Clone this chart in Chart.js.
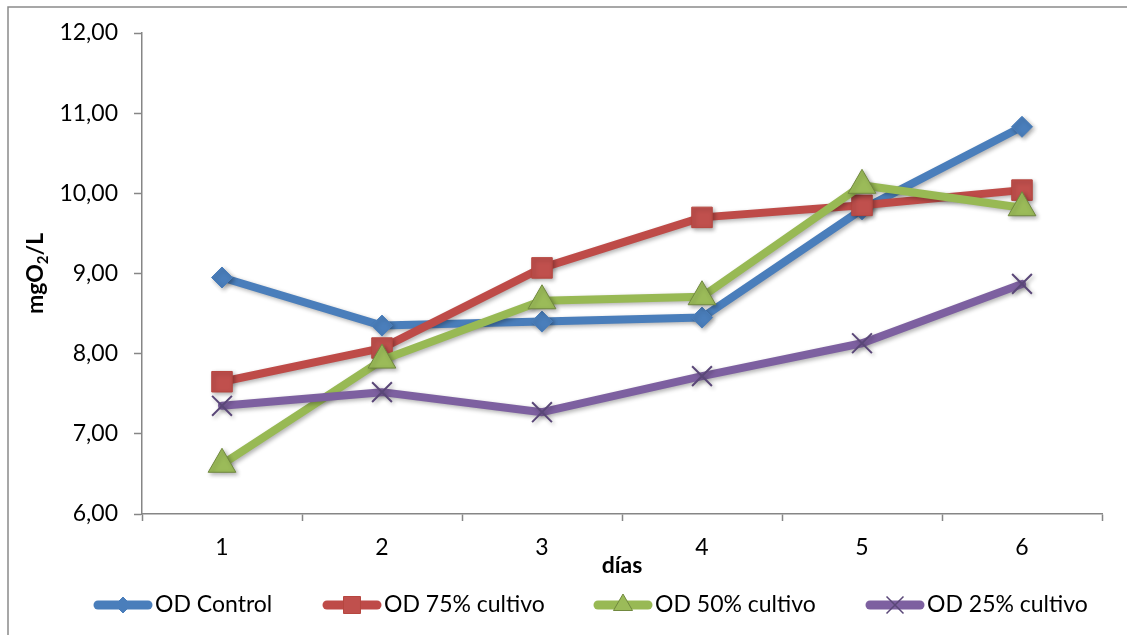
<!DOCTYPE html>
<html>
<head>
<meta charset="utf-8">
<script src="https://cdn.jsdelivr.net/npm/chart.js@4"></script>
<style>
  html, body { margin: 0; padding: 0; background: #ffffff; }
  #wrap { width: 1127px; height: 635px; position: relative; }
</style>
</head>
<body>
<div id="wrap"><canvas id="chart" width="1127" height="635"></canvas></div>
<script>
// Días de medición
const days = ['1', '2', '3', '4', '5', '6'];

// Oxígeno disuelto (mgO2/L) por tratamiento
const odControl = [8.95, 8.35, 8.40, 8.45, 9.80, 10.83];
const od75 = [7.65, 8.07, 9.07, 9.70, 9.85, 10.04];
const od50 = [6.62, 7.92, 8.66, 8.71, 10.10, 9.82];
const od25 = [7.35, 7.52, 7.27, 7.72, 8.13, 8.87];

const seriesNames = ['OD Control', 'OD 75% cultivo', 'OD 50% cultivo', 'OD 25% cultivo'];

// Escala vertical
const yMin = 6;
const yMax = 12;
const yStep = 1;

const FONT = 'Lato, "Open Sans", sans-serif';
const AXIS_GRAY = '#868686';

// Marco exterior del gráfico
const framePlugin = {
  id: 'frame',
  beforeDraw(chart) {
    const ctx = chart.ctx;
    ctx.save();
    ctx.fillStyle = '#ffffff';
    ctx.fillRect(0, 0, chart.width, chart.height);
    ctx.strokeStyle = '#8a8a8a';
    ctx.lineWidth = 1.5;
    ctx.strokeRect(8, 7, chart.width + 20, chart.height + 20);
    ctx.restore();
  }
};

// Sombra suave bajo las líneas y marcadores
const shadowPlugin = {
  id: 'seriesShadow',
  beforeDatasetsDraw(chart) {
    const ctx = chart.ctx;
    ctx.save();
    ctx.shadowColor = 'rgba(0,0,0,0.30)';
    ctx.shadowBlur = 4;
    ctx.shadowOffsetX = 2;
    ctx.shadowOffsetY = 2;
  },
  afterDatasetsDraw(chart) {
    chart.ctx.restore();
  }
};

// Título del eje Y con subíndice
const yTitlePlugin = {
  id: 'yTitle',
  afterDraw(chart) {
    const ctx = chart.ctx;
    const area = chart.chartArea;
    const big = 'bold 23px ' + FONT;
    const small = 'bold 15px ' + FONT;
    ctx.save();
    ctx.font = big;
    const w1 = ctx.measureText('mgO').width;
    const w3 = ctx.measureText('/L').width;
    ctx.font = small;
    const w2 = ctx.measureText('2').width;
    const total = w1 + w2 + w3;
    ctx.translate(43, (area.top + area.bottom) / 2);
    ctx.rotate(-Math.PI / 2);
    ctx.fillStyle = '#000000';
    ctx.textBaseline = 'alphabetic';
    ctx.textAlign = 'left';
    let x = -total / 2;
    ctx.font = big;
    ctx.fillText('mgO', x, 0);
    x += w1;
    ctx.font = small;
    ctx.fillText('2', x, 5);
    x += w2;
    ctx.font = big;
    ctx.fillText('/L', x, 0);
    ctx.restore();
  }
};

// Leyenda inferior: línea con marcador y nombre de la serie
const legendPlugin = {
  id: 'lineLegend',
  afterDraw(chart) {
    const ctx = chart.ctx;
    const starts = [93, 322, 593, 865];
    const cy = 605;
    ctx.save();
    chart.data.datasets.forEach((ds, i) => {
      const x0 = starts[i];
      ctx.save();
      ctx.strokeStyle = ds.borderColor;
      ctx.lineWidth = 9;
      ctx.lineCap = 'round';
      ctx.beginPath();
      ctx.moveTo(x0 + 5, cy);
      ctx.lineTo(x0 + 55, cy);
      ctx.stroke();
      ctx.restore();
      ctx.save();
      ctx.fillStyle = ds.pointBackgroundColor;
      ctx.strokeStyle = ds.pointBorderColor;
      ctx.lineWidth = ds.legendMarkerWidth;
      Chart.helpers.drawPoint(ctx, {
        pointStyle: ds.pointStyle,
        radius: ds.legendMarkerRadius,
        rotation: 0,
        borderWidth: ds.legendMarkerWidth
      }, x0 + 30, cy);
      ctx.restore();
      ctx.font = '23px ' + FONT;
      ctx.fillStyle = '#000000';
      ctx.textAlign = 'left';
      ctx.textBaseline = 'middle';
      ctx.fillText(ds.label, x0 + 62, cy);
    });
    ctx.restore();
  }
};

const ctx = document.getElementById('chart').getContext('2d');

new Chart(ctx, {
  type: 'line',
  data: {
    labels: days,
    datasets: [
      {
        label: seriesNames[0],
        data: odControl,
        order: 4,
        borderColor: '#4A7EBB',
        borderWidth: 8,
        pointStyle: 'rectRot',
        pointRadius: 10.5,
        pointBackgroundColor: '#4A7EBB',
        pointBorderColor: '#4A7EBB',
        pointBorderWidth: 1,
        legendMarkerRadius: 8,
        legendMarkerWidth: 1
      },
      {
        label: seriesNames[1],
        data: od75,
        order: 3,
        borderColor: '#BE4B48',
        borderWidth: 8,
        pointStyle: 'rect',
        pointRadius: 14.5,
        pointBackgroundColor: '#C0504D',
        pointBorderColor: '#B6463F',
        pointBorderWidth: 1,
        legendMarkerRadius: 12,
        legendMarkerWidth: 1
      },
      {
        label: seriesNames[2],
        data: od50,
        order: 2,
        borderColor: '#98B954',
        borderWidth: 8,
        pointStyle: 'triangle',
        pointRadius: 16,
        pointBackgroundColor: '#9BBB59',
        pointBorderColor: '#71893F',
        pointBorderWidth: 1,
        legendMarkerRadius: 11,
        legendMarkerWidth: 1
      },
      {
        label: seriesNames[3],
        data: od25,
        order: 1,
        borderColor: '#7D60A0',
        borderWidth: 8,
        pointStyle: 'crossRot',
        pointRadius: 14,
        pointBackgroundColor: '#7D60A0',
        pointBorderColor: '#5A4778',
        pointBorderWidth: 2,
        legendMarkerRadius: 12,
        legendMarkerWidth: 1.5
      }
    ]
  },
  options: {
    responsive: false,
    animation: false,
    devicePixelRatio: 1,
    layout: { padding: { top: 33, right: 25, bottom: 0, left: 0 } },
    elements: { line: { tension: 0, borderCapStyle: 'round', borderJoinStyle: 'round' } },
    plugins: {
      legend: { display: false },
      tooltip: { enabled: false },
      title: { display: false }
    },
    scales: {
      x: {
        type: 'category',
        offset: true,
        grid: {
          offset: true,
          display: true,
          drawOnChartArea: false,
          drawTicks: true,
          tickLength: 7,
          tickWidth: 1.5,
          color: AXIS_GRAY
        },
        border: { display: true, color: AXIS_GRAY, width: 1.5 },
        ticks: {
          color: '#000000',
          font: { family: FONT, size: 23 },
          padding: 13,
          maxRotation: 0
        },
        title: {
          display: true,
          text: 'días',
          color: '#000000',
          font: { family: FONT, size: 23, weight: 'bold' },
          padding: { top: 0, bottom: 56 }
        },
        afterFit(scale) { scale.height = 121; }
      },
      y: {
        type: 'linear',
        min: yMin,
        max: yMax,
        grid: {
          display: true,
          drawOnChartArea: false,
          drawTicks: true,
          tickLength: 8,
          tickWidth: 1.5,
          color: AXIS_GRAY
        },
        border: { display: true, color: AXIS_GRAY, width: 1.5 },
        ticks: {
          stepSize: yStep,
          color: '#000000',
          font: { family: FONT, size: 23 },
          padding: 16,
          callback: (v) => v.toFixed(2).replace('.', ',')
        },
        afterFit(scale) { scale.width = 142; }
      }
    }
  },
  plugins: [framePlugin, shadowPlugin, yTitlePlugin, legendPlugin]
});
</script>
</body>
</html>
